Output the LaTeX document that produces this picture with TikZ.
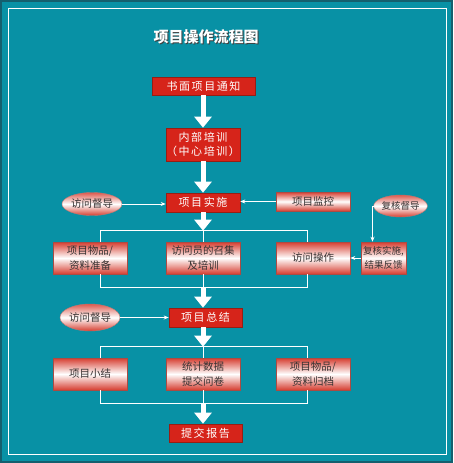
\documentclass[tikz,border=0pt]{standalone}
\usepackage{fontspec}
\setmainfont{Noto Sans CJK SC}
\usetikzlibrary{arrows.meta,shapes.geometric}
\definecolor{bgteal}{RGB}{8,145,165}
\definecolor{edgeteal}{RGB}{20,95,110}
\definecolor{boxred}{RGB}{214,36,26}
\definecolor{boxedge}{RGB}{150,30,20}
\definecolor{softred}{RGB}{214,62,48}
\definecolor{inktext}{RGB}{55,50,50}

\tikzset{
  redbox/.style={draw=boxedge,line width=0.6pt,fill=boxred,text=white,inner sep=0pt,
    font=\fontsize{11}{13.5}\selectfont\addfontfeature{LetterSpace=14},align=center},
  glossbox/.style={draw=boxedge!80,line width=0.6pt,top color=softred,bottom color=softred,
    middle color=white,text=inktext,inner sep=0pt,
    font=\fontsize{10.5}{14.5}\selectfont,align=center},
  glossoval/.style={ellipse,draw=boxedge!60,line width=0.4pt,top color=softred!85,bottom color=softred,
    middle color=white,text=inktext,inner sep=0pt,font=\fontsize{10.5}{12}\selectfont},
  bigarrow/.style={draw=white,line width=5pt,-{Triangle[width=17pt,length=11pt]}},
  thinarrow/.style={draw=white,line width=0.7pt,-{Stealth[length=5pt,width=4pt]}},
  bracket/.style={draw=white,line width=0.8pt}
}

\begin{document}
\begin{tikzpicture}[x=1pt,y=-1pt]
\useasboundingbox (0,0) rectangle (453,463);
\fill[bgteal] (0,0) rectangle (453,463);
\draw[edgeteal,line width=2pt] (1,1) rectangle (452,462);
\draw[white,line width=1pt] (8,8) rectangle (446,454);

% title
\node[text=black!75,font=\bfseries\fontsize{15}{17}\selectfont] at (207.2,38.2) {项目操作流程图};
\node (title) [text=white,font=\bfseries\fontsize{15}{17}\selectfont] at (206,37) {项目操作流程图};

% main column
\node (notice) [redbox,minimum width=103pt,minimum height=18pt] at (203.5,86) {书面项目通知};
\node (train) [redbox,minimum width=74pt,minimum height=33pt] at (203,144.5) {内部培训\\（中心培训）};
\node (impl) [redbox,minimum width=74pt,minimum height=19pt] at (203,202.5) {项目实施};
\node (summary) [redbox,minimum width=73pt,minimum height=19pt] at (205.5,317.5) {项目总结};
\node (report) [redbox,minimum width=73pt,minimum height=18pt] at (205.5,433) {提交报告};

% side inputs
\node (visitA) [glossoval,minimum width=60pt,minimum height=23pt] at (92,204) {访问督导};
\node (monitor) [glossbox,minimum width=74pt,minimum height=19pt] at (313,201.5) {项目监控};
\node (recheck) [glossoval,minimum width=42pt,minimum height=22pt,font=\fontsize{9.5}{11}\selectfont] at (400.5,206) {复核督导};
\node (feedback) [glossbox,minimum width=45pt,minimum height=32pt,font=\fontsize{9.5}{14}\selectfont] at (383.5,258) {复核实施,\\结果反馈};
\node (visitB) [glossoval,minimum width=60pt,minimum height=27pt] at (90,317.5) {访问督导};

% first row
\node (prep) [glossbox,minimum width=74pt,minimum height=32pt] at (90,258) {项目物品/\\资料准备};
\node (recruit) [glossbox,minimum width=74pt,minimum height=32pt] at (203,258) {访问员的召集\\及培训};
\node (operate) [glossbox,minimum width=74pt,minimum height=32pt] at (313,258) {访问操作};

% second row
\node (brief) [glossbox,minimum width=74pt,minimum height=32pt] at (90,374) {项目小结};
\node (stats) [glossbox,minimum width=74pt,minimum height=32pt] at (203,374) {统计数据\\提交问卷};
\node (archive) [glossbox,minimum width=74pt,minimum height=32pt] at (313,374) {项目物品/\\资料归档};

% brackets
\draw[bracket] ([xshift=10pt]prep.north) -- ++(0,-11) -| ([xshift=-6pt]operate.north);
\draw[bracket] (recruit.north) -- ++(0,-11) coordinate (topA);
\draw[bracket] ([xshift=10pt]prep.south) -- ++(0,13) -| ([xshift=-6pt]operate.south);
\draw[bracket] (recruit.south) -- ++(0,13) coordinate (botA);
\draw[bracket] ([xshift=10pt]brief.north) -- ++(0,-11) -| ([xshift=-6pt]archive.north);
\draw[bracket] (stats.north) -- ++(0,-11) coordinate (topB);
\draw[bracket] ([xshift=10pt]brief.south) -- ++(0,13) -| ([xshift=-6pt]archive.south);
\draw[bracket] (stats.south) -- ++(0,13) coordinate (botB);

% big arrows
\draw[bigarrow] (notice.south -| train.north) -- (train.north);
\draw[bigarrow] (train.south) -- (impl.north);
\draw[bigarrow] (impl.south) -- (topA);
\draw[bigarrow] (botA) -- (botA |- summary.north);
\draw[bigarrow] (summary.south -| topB) -- (topB);
\draw[bigarrow] (botB) -- (botB |- report.north);

% thin arrows
\draw[thinarrow] (visitA.east) -- (visitA.east -| impl.west);
\draw[thinarrow] (monitor.west) -- (monitor.west -| impl.east);
\draw[thinarrow] (recheck.west) -| ([xshift=-11pt]feedback.north);
\draw[thinarrow] (feedback.west) -- (operate.east);
\draw[thinarrow] (visitB.east) -- (summary.west);
\end{tikzpicture}
\end{document}
